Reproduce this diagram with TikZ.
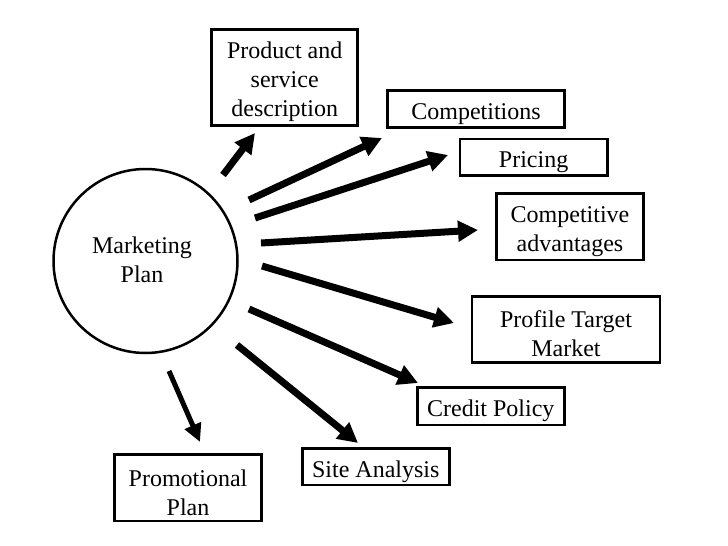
\documentclass[tikz,border=0pt]{standalone}
\usepackage{fontspec}
\setmainfont{Liberation Serif}
\usetikzlibrary{arrows.meta}
\newcommand\tup{\rule{0pt}{26pt}}
\begin{document}
\begin{tikzpicture}[x=1pt,y=-1pt,
  box/.style={draw,line width=2.5pt,inner sep=0pt,align=center,
    font=\fontsize{24}{29}\selectfont},
  arr/.style={line width=7pt,-{Triangle[length=20pt,width=20pt]}},
  thinarr/.style={line width=5pt,-{Triangle[length=18pt,width=17pt]}}]
\useasboundingbox (0,0) rectangle (728,546);
\node[circle,draw,line width=2.5pt,minimum size=184pt,inner sep=0pt] (mp) at (145.5,261) {};
\node[align=center,font=\fontsize{24}{29}\selectfont] (mpt) at (142,260) {Marketing\\Plan};
\node[box,minimum width=146pt,minimum height=96pt] (prod) at (284.7,77.3) {\tup Product and\\service\\description};
\node[box,minimum width=176.6pt,minimum height=36.6pt] (comp) at (476,109) {\tup Competitions};
\node[box,minimum width=147.3pt,minimum height=36.7pt] (pric) at (533.6,157.3) {\tup Pricing};
\node[box,minimum width=146.6pt,minimum height=66.7pt] (cadv) at (570,226.7) {\tup Competitive\\advantages};
\node[box,minimum width=188pt,minimum height=65.6pt] (prof) at (566,329.5) {\tup Profile Target\\Market};
\node[box,minimum width=147pt,minimum height=37.3pt] (cred) at (490.8,406.3) {\tup Credit Policy};
\node[box,minimum width=147pt,minimum height=36.7pt] (site) at (375.8,466.7) {\tup Site Analysis};
\node[box,minimum width=147.4pt,minimum height=66.7pt] (promo) at (188,487.7) {\tup Promotional\\Plan};
% arrow end points
\coordinate (a1s) at (223,175); \coordinate (a1e) at (255,133);
\coordinate (a2s) at (249,200); \coordinate (a2e) at (382,138);
\coordinate (a3s) at (255,218); \coordinate (a3e) at (448,155);
\coordinate (a4s) at (261,243); \coordinate (a4e) at (478,230);
\coordinate (a5s) at (262,266); \coordinate (a5e) at (454,323);
\coordinate (a6s) at (249,309); \coordinate (a6e) at (418,383);
\coordinate (a7s) at (237,345); \coordinate (a7e) at (358,443);
\coordinate (a8s) at (169,371); \coordinate (a8e) at (200,442);
\draw[arr] (a1s) -- (a1e);
\draw[arr] (a2s) -- (a2e);
\draw[arr] (a3s) -- (a3e);
\draw[arr] (a4s) -- (a4e);
\draw[arr] (a5s) -- (a5e);
\draw[arr] (a6s) -- (a6e);
\draw[arr] (a7s) -- (a7e);
\draw[thinarr] (a8s) -- (a8e);
\end{tikzpicture}
\end{document}
